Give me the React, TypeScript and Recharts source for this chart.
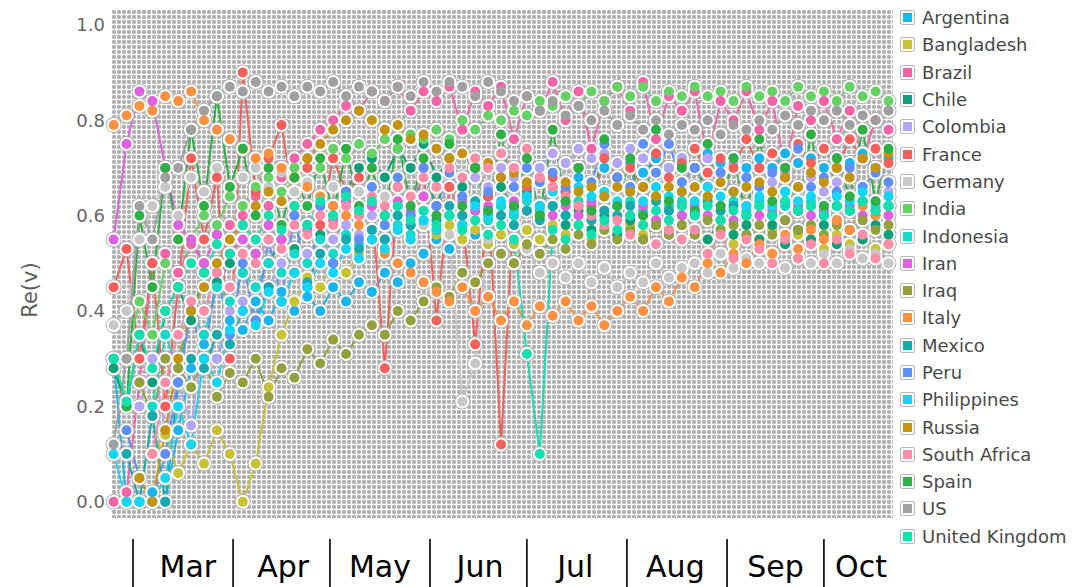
import { CartesianGrid, Line, LineChart, XAxis, YAxis } from 'recharts'

const countries = [
  'Argentina', 'Bangladesh', 'Brazil', 'Chile', 'Colombia', 'France', 'Germany',
  'India', 'Indonesia', 'Iran', 'Iraq', 'Italy', 'Mexico', 'Peru', 'Philippines',
  'Russia', 'South Africa', 'Spain', 'US', 'United Kingdom',
]

const colors = [
  '#1ab4ee', '#c9c235', '#f564a6', '#0f9f7a', '#b5a5f5', '#f7605a', '#c8c8c8',
  '#66d266', '#18d8c8', '#e060e0', '#93a03c', '#ff9140', '#16a9ad', '#5f8ff8',
  '#14d6f4', '#c49410', '#ff8da8', '#2eb044', '#a0a0a0', '#14dfae',
]

// days since 1 March
const days = [
  -6, -2, 2, 6, 10, 14, 18, 22, 26, 30, 34, 38, 42, 46, 50, 54, 58, 62, 66, 70,
  74, 78, 82, 86, 90, 94, 98, 102, 106, 110, 114, 118, 122, 126, 130, 134, 138,
  142, 146, 150, 154, 158, 162, 166, 170, 174, 178, 182, 186, 190, 194, 198, 202,
  206, 210, 214, 218, 222, 226, 230, 234,
]

const argentina = [
  0.30, 0.00, 0.00, 0.02, 0.00,
  0.15, 0.28, 0.33, 0.30, 0.38,
  0.36, 0.42, 0.38, 0.44, 0.40,
  0.43, 0.40, 0.45, 0.42, 0.46,
  0.44, 0.48, 0.46, 0.50, 0.52,
  0.55, 0.53, 0.58, 0.56, 0.60,
  0.62, 0.60, 0.64, 0.62, 0.66,
  0.65, 0.68, 0.66, 0.70, 0.68,
  0.71, 0.69, 0.72, 0.70, 0.72,
  0.70, 0.73, 0.71, 0.72, 0.70,
  0.72, 0.70, 0.73, 0.71, 0.72,
  0.70, 0.72, 0.71, 0.73, 0.70, 0.72,
]
const bangladesh = [
  null, null, null, 0.10, 0.14,
  0.06, 0.12, 0.08, 0.15, 0.10,
  0.00, 0.08, 0.24, 0.35, 0.42,
  0.47, 0.45, 0.50, 0.48, 0.52,
  0.55, 0.53, 0.57, 0.55, 0.58,
  0.56, 0.58, 0.55, 0.57, 0.54,
  0.56, 0.54, 0.57, 0.55, 0.58,
  0.56, 0.58, 0.55, 0.57, 0.56,
  0.58, 0.56, 0.59, 0.57, 0.58,
  0.56, 0.55, 0.57, 0.54, 0.56,
  0.55, 0.57, 0.54, 0.56, 0.55,
  0.53, 0.56, 0.54, 0.55, 0.53, 0.54,
]
const brazil = [
  0.00, 0.02, 0.25, 0.50, 0.52,
  0.48, 0.54, 0.50, 0.56, 0.58,
  0.60, 0.64, 0.62, 0.68, 0.72,
  0.75, 0.78, 0.80, 0.83, 0.82,
  0.86, 0.84, 0.87, 0.82, 0.86,
  0.84, 0.87, 0.78, 0.86, 0.83,
  0.87, 0.76, 0.85, 0.82, 0.88,
  0.80, 0.86, 0.74, 0.84, 0.87,
  0.82, 0.88, 0.76, 0.85, 0.82,
  0.86, 0.72, 0.84, 0.80, 0.86,
  0.78, 0.84, 0.70, 0.83, 0.80,
  0.84, 0.76, 0.82, 0.72, 0.80, 0.78,
]
const chile = [
  0.28, 0.20, 0.35, 0.25, 0.40,
  0.45, 0.38, 0.48, 0.46, 0.50,
  0.48, 0.52, 0.50, 0.55, 0.53,
  0.58, 0.56, 0.62, 0.65, 0.70,
  0.72, 0.68, 0.74, 0.70, 0.75,
  0.68, 0.72, 0.66, 0.70, 0.64,
  0.66, 0.62, 0.65, 0.60, 0.62,
  0.58, 0.61, 0.57, 0.60, 0.56,
  0.59, 0.55, 0.58, 0.56, 0.60,
  0.57, 0.55, 0.59, 0.56, 0.58,
  0.55, 0.58, 0.54, 0.57, 0.55,
  0.58, 0.54, 0.57, 0.55, 0.58, 0.56,
]
const colombia = [
  null, null, 0.20, 0.30, 0.15,
  0.25, 0.16, 0.35, 0.30, 0.40,
  0.42, 0.38, 0.45, 0.50, 0.48,
  0.52, 0.50, 0.55, 0.58, 0.56,
  0.60, 0.58, 0.62, 0.60, 0.64,
  0.62, 0.66, 0.64, 0.68, 0.66,
  0.70, 0.68, 0.72, 0.70, 0.73,
  0.71, 0.74, 0.72, 0.73, 0.71,
  0.74, 0.72, 0.73, 0.70, 0.72,
  0.70, 0.72, 0.69, 0.71, 0.68,
  0.70, 0.67, 0.69, 0.66, 0.68,
  0.65, 0.67, 0.64, 0.66, 0.63, 0.65,
]
const france = [
  0.45, 0.53, 0.30, 0.50, 0.20,
  0.45, 0.72, 0.55, 0.68, 0.30,
  0.90, 0.65, 0.72, 0.79, 0.62,
  0.70, 0.58, 0.72, 0.65, 0.68,
  0.62, 0.28, 0.66, 0.58, 0.70,
  0.38, 0.66, 0.60, 0.33, 0.64,
  0.12, 0.62, 0.66, 0.60, 0.68,
  0.65, 0.70, 0.62, 0.72, 0.68,
  0.70, 0.66, 0.73, 0.68, 0.71,
  0.74, 0.69, 0.72, 0.70, 0.76,
  0.70, 0.73, 0.68, 0.75, 0.71,
  0.74, 0.70, 0.76, 0.72, 0.74, 0.71,
]
const germany = [
  0.37, 0.40, 0.55, 0.62, 0.66,
  0.60, 0.68, 0.65, 0.70, 0.66,
  0.68, 0.70, 0.66, 0.69, 0.65,
  0.67, 0.64, 0.66, 0.63, 0.65,
  0.62, 0.64, 0.60, 0.62, 0.58,
  0.60, 0.56, 0.21, 0.29, 0.55,
  0.52, 0.50, 0.53, 0.48, 0.50,
  0.47, 0.50, 0.46, 0.49, 0.45,
  0.48, 0.46, 0.50, 0.47, 0.49,
  0.50, 0.48, 0.52, 0.49, 0.51,
  0.50, 0.52, 0.49, 0.51, 0.50,
  0.52, 0.50, 0.53, 0.51, 0.52, 0.50,
]
const india = [
  null, 0.30, 0.42, 0.35, 0.50,
  0.45, 0.55, 0.60, 0.58, 0.64,
  0.62, 0.66, 0.68, 0.65, 0.70,
  0.72, 0.70, 0.74, 0.72, 0.75,
  0.73, 0.76, 0.74, 0.77, 0.76,
  0.78, 0.76, 0.80, 0.78, 0.81,
  0.80, 0.82, 0.81, 0.84, 0.83,
  0.85, 0.83, 0.86, 0.84, 0.87,
  0.85, 0.87, 0.84, 0.86, 0.85,
  0.87, 0.85, 0.86, 0.84, 0.87,
  0.85, 0.86, 0.84, 0.87, 0.85,
  0.86, 0.84, 0.87, 0.85, 0.86, 0.84,
]
const indonesia = [
  null, null, null, 0.20, 0.35,
  0.28, 0.40, 0.35, 0.45, 0.42,
  0.48, 0.45, 0.50, 0.48, 0.52,
  0.50, 0.55, 0.52, 0.56, 0.54,
  0.57, 0.55, 0.58, 0.56, 0.59,
  0.57, 0.60, 0.58, 0.61, 0.59,
  0.62, 0.60, 0.63, 0.61, 0.62,
  0.60, 0.63, 0.61, 0.64, 0.62,
  0.63, 0.61, 0.64, 0.62, 0.63,
  0.61, 0.64, 0.62, 0.63, 0.61,
  0.63, 0.60, 0.62, 0.61, 0.63,
  0.60, 0.62, 0.61, 0.63, 0.60, 0.62,
]
const iran = [
  0.55, 0.75, 0.86, 0.84, 0.70,
  0.58, 0.55, 0.50, 0.56, 0.52,
  0.55, 0.52, 0.58, 0.55, 0.60,
  0.57, 0.62, 0.59, 0.63, 0.60,
  0.62, 0.60, 0.63, 0.61, 0.64,
  0.62, 0.60, 0.63, 0.61, 0.62,
  0.60, 0.63, 0.61, 0.62, 0.60,
  0.62, 0.60, 0.63, 0.61, 0.62,
  0.60, 0.62, 0.59, 0.61, 0.60,
  0.62, 0.60, 0.61, 0.59, 0.62,
  0.60, 0.61, 0.59, 0.62, 0.60,
  0.61, 0.59, 0.62, 0.60, 0.61, 0.60,
]
const iraq = [
  null, null, 0.25, 0.18, 0.30,
  0.28, 0.24, 0.30, 0.22, 0.27,
  0.25, 0.30, 0.22, 0.28, 0.26,
  0.32, 0.29, 0.34, 0.31, 0.35,
  0.37, 0.35, 0.40, 0.38, 0.42,
  0.45, 0.43, 0.48, 0.46, 0.50,
  0.52, 0.50, 0.54, 0.52, 0.55,
  0.53, 0.56, 0.54, 0.57, 0.55,
  0.57, 0.55, 0.58, 0.56, 0.58,
  0.56, 0.59, 0.57, 0.58, 0.56,
  0.58, 0.56, 0.59, 0.57, 0.58,
  0.56, 0.58, 0.57, 0.59, 0.57, 0.58,
]
const italy = [
  0.79, 0.81, 0.83, 0.82, 0.85,
  0.84, 0.86, 0.80, 0.78, 0.76,
  0.74, 0.72, 0.73, 0.70, 0.68,
  0.66, 0.64, 0.62, 0.60, 0.58,
  0.55, 0.52, 0.50, 0.48, 0.46,
  0.44, 0.42, 0.45, 0.40, 0.43,
  0.38, 0.42, 0.37, 0.41, 0.39,
  0.42, 0.38, 0.41, 0.37, 0.40,
  0.43, 0.40, 0.45, 0.42, 0.47,
  0.45, 0.50, 0.48, 0.52, 0.50,
  0.54, 0.52, 0.56, 0.53, 0.57,
  0.55, 0.59, 0.57, 0.62, 0.60, 0.64,
]
const mexico = [
  null, 0.10, 0.00, 0.18, 0.00,
  0.25, 0.30, 0.28, 0.35, 0.33,
  0.40, 0.38, 0.45, 0.42, 0.48,
  0.46, 0.52, 0.50, 0.55, 0.53,
  0.57, 0.55, 0.60, 0.58, 0.61,
  0.59, 0.62, 0.60, 0.63, 0.61,
  0.60, 0.58, 0.61, 0.59, 0.62,
  0.60, 0.62, 0.59, 0.61, 0.60,
  0.62, 0.60, 0.63, 0.61, 0.62,
  0.60, 0.63, 0.61, 0.62, 0.60,
  0.62, 0.60, 0.63, 0.61, 0.62,
  0.60, 0.62, 0.61, 0.63, 0.61, 0.62,
]
const peru = [
  null, 0.15, 0.05, 0.00, 0.10,
  0.25, 0.40, 0.30, 0.48, 0.35,
  0.50, 0.38, 0.55, 0.42, 0.60,
  0.45, 0.62, 0.50, 0.65, 0.55,
  0.66, 0.58, 0.68, 0.60, 0.70,
  0.62, 0.69, 0.64, 0.70, 0.65,
  0.68, 0.66, 0.70, 0.67, 0.69,
  0.66, 0.70, 0.67, 0.75, 0.68,
  0.66, 0.75, 0.69, 0.75, 0.67,
  0.70, 0.66, 0.69, 0.65, 0.68,
  0.66, 0.69, 0.65, 0.74, 0.66,
  0.68, 0.65, 0.70, 0.66, 0.69, 0.67,
]
const philippines = [
  0.10, 0.00, 0.00, 0.00, 0.05,
  0.20, 0.12, 0.30, 0.25, 0.36,
  0.40, 0.37, 0.44, 0.42, 0.48,
  0.45, 0.50, 0.48, 0.53, 0.51,
  0.55, 0.53, 0.57, 0.55, 0.59,
  0.57, 0.60, 0.58, 0.62, 0.60,
  0.63, 0.61, 0.64, 0.62, 0.65,
  0.63, 0.66, 0.64, 0.65, 0.63,
  0.65, 0.63, 0.66, 0.64, 0.65,
  0.63, 0.66, 0.64, 0.65, 0.62,
  0.64, 0.62, 0.65, 0.63, 0.64,
  0.62, 0.64, 0.63, 0.65, 0.62, 0.64,
]
const russia = [
  null, null, 0.05, 0.00, 0.15,
  0.30, 0.40, 0.45, 0.50, 0.55,
  0.58, 0.62, 0.65, 0.63, 0.68,
  0.72, 0.75, 0.78, 0.80, 0.82,
  0.80, 0.78, 0.79, 0.76, 0.77,
  0.74, 0.72, 0.73, 0.70, 0.71,
  0.68, 0.69, 0.67, 0.68, 0.66,
  0.67, 0.65, 0.66, 0.64, 0.66,
  0.65, 0.66, 0.64, 0.66, 0.65,
  0.66, 0.64, 0.67, 0.65, 0.66,
  0.67, 0.65, 0.68, 0.66, 0.69,
  0.67, 0.70, 0.68, 0.72, 0.70, 0.73,
]
const southAfrica = [
  null, null, null, 0.10, 0.25,
  0.35, 0.42, 0.40, 0.48, 0.45,
  0.52, 0.50, 0.55, 0.53, 0.58,
  0.56, 0.60, 0.58, 0.62, 0.60,
  0.64, 0.62, 0.66, 0.64, 0.68,
  0.66, 0.70, 0.68, 0.72, 0.70,
  0.73, 0.70, 0.74, 0.68, 0.66,
  0.64, 0.62, 0.60, 0.58, 0.59,
  0.56, 0.58, 0.54, 0.57, 0.55,
  0.57, 0.52, 0.56, 0.51, 0.55,
  0.53, 0.50, 0.55, 0.51, 0.54,
  0.50, 0.55, 0.52, 0.56, 0.51, 0.54,
]
const spain = [
  0.30, 0.20, 0.60, 0.45, 0.70,
  0.55, 0.78, 0.62, 0.85, 0.66,
  0.74, 0.60, 0.70, 0.58, 0.68,
  0.62, 0.72, 0.60, 0.74, 0.62,
  0.70, 0.60, 0.76, 0.62, 0.72,
  0.60, 0.75, 0.62, 0.70, 0.61,
  0.77, 0.62, 0.72, 0.60, 0.78,
  0.63, 0.70, 0.61, 0.76, 0.62,
  0.72, 0.60, 0.78, 0.63, 0.70,
  0.61, 0.75, 0.62, 0.72, 0.60,
  0.76, 0.63, 0.70, 0.61, 0.77,
  0.62, 0.72, 0.64, 0.78, 0.63, 0.74,
]
const us = [
  0.12, 0.30, 0.62, 0.55, 0.68,
  0.70, 0.78, 0.82, 0.85, 0.87,
  0.86, 0.88, 0.86, 0.87, 0.85,
  0.87, 0.86, 0.88, 0.85, 0.87,
  0.86, 0.84, 0.87, 0.85, 0.88,
  0.86, 0.88, 0.87, 0.85, 0.88,
  0.86, 0.84, 0.85, 0.82, 0.84,
  0.81, 0.83, 0.80, 0.82, 0.79,
  0.81, 0.78, 0.80, 0.77, 0.79,
  0.78, 0.80, 0.77, 0.79, 0.78,
  0.80, 0.78, 0.81, 0.79, 0.82,
  0.80, 0.82, 0.79, 0.81, 0.80, 0.82,
]
const unitedKingdom = [
  0.30, 0.21, 0.35, 0.28, 0.40,
  0.45, 0.50, 0.48, 0.54, 0.52,
  0.58, 0.55, 0.60, 0.57, 0.62,
  0.58, 0.63, 0.60, 0.64, 0.61,
  0.63, 0.60, 0.62, 0.59, 0.61,
  0.58, 0.60, 0.57, 0.59, 0.56,
  0.58, 0.55, 0.31, 0.10, 0.57,
  0.55, 0.58, 0.56, 0.59, 0.57,
  0.60, 0.58, 0.61, 0.59, 0.62,
  0.60, 0.62, 0.59, 0.61, 0.60,
  0.62, 0.60, 0.63, 0.61, 0.62,
  0.60, 0.62, 0.61, 0.63, 0.61, 0.62,
]

const seriesValues = [
  argentina, bangladesh, brazil, chile, colombia, france, germany, india,
  indonesia, iran, iraq, italy, mexico, peru, philippines, russia,
  southAfrica, spain, us, unitedKingdom,
]

const monthStarts = [0, 31, 61, 92, 122, 153, 184, 214]
const monthNames = ['Mar', 'Apr', 'May', 'Jun', 'Jul', 'Aug', 'Sep', 'Oct']
const monthLabelDays = [17, 46.5, 76.5, 107.5, 137, 168, 199, 225.5]
const yTicks = [0, 0.2, 0.4, 0.6, 0.8, 1.0]

const rows = days.map((day, i) => {
  const row: Record<string, number | null> = { day }
  countries.forEach((c, k) => {
    row[c] = seriesValues[k][i]
  })
  return row
})

const FONT = '"DejaVu Sans", Verdana, sans-serif'

const MonthTick = ({ x, y, payload }: any) => {
  const idx = monthLabelDays.indexOf(payload.value)
  if (idx >= 0) {
    return (
      <text x={x} y={y + 59} textAnchor="middle" fontSize={30} fontFamily={FONT} fill="#000">
        {monthNames[idx]}
      </text>
    )
  }
  return <line x1={x} x2={x} y1={y + 21} y2={y + 70} stroke="#000" strokeWidth={1.6} />
}

const LegendList = () => (
  <div style={{ position: 'absolute', left: 900, top: 4, fontFamily: FONT }}>
    {countries.map((c, k) => (
      <div key={c} style={{ display: 'flex', alignItems: 'center', height: 27.3 }}>
        <div
          style={{
            width: 13,
            height: 13,
            border: '1px solid #b8b8b8',
            borderRadius: 2,
            background: '#fff',
            display: 'flex',
            alignItems: 'center',
            justifyContent: 'center',
            marginRight: 7,
          }}
        >
          <div style={{ width: 9, height: 9, background: colors[k] }} />
        </div>
        <span style={{ fontSize: 18, color: '#4a4a4a' }}>{c}</span>
      </div>
    ))}
  </div>
)

export default function App() {
  return (
    <div style={{ position: 'absolute', left: 0, top: 0, width: 1081, height: 587, background: '#fff' }}>
      <LineChart width={1081} height={587} data={rows} margin={{ top: 10, right: 188, bottom: 0, left: 0 }}>
        <defs>
          <pattern id="dotgrid" x={112} y={10} width={5} height={5} patternUnits="userSpaceOnUse">
            <rect x={0} y={0} width={5} height={5} fill="#ffffff" />
            <rect x={0} y={0} width={4} height={4} rx={1.4} fill="#b0b0b0" />
          </pattern>
        </defs>
        <CartesianGrid horizontal={false} vertical={false} fill="url(#dotgrid)" />
        <XAxis
          dataKey="day"
          type="number"
          domain={[-6.5, 235.4]}
          ticks={[...monthStarts, ...monthLabelDays]}
          interval={0}
          tick={<MonthTick />}
          axisLine={false}
          tickLine={false}
          tickSize={0}
          tickMargin={0}
          height={69}
        />
        <YAxis
          domain={[-0.034, 1.031]}
          ticks={yTicks}
          tickFormatter={(v: number) => v.toFixed(1)}
          axisLine={false}
          tickLine={false}
          tickSize={0}
          tickMargin={7}
          width={112}
          tick={{ fill: '#666666', fontSize: 18, fontFamily: FONT }}
        />
        {countries.map((c) => (
          <Line
            key={`g-${c}`}
            dataKey={c}
            stroke="none"
            dot={{ r: 8, fill: '#b4b4b4', stroke: 'none' }}
            activeDot={false}
            legendType="none"
            isAnimationActive={false}
          />
        ))}
        {countries.map((c) => (
          <Line
            key={`w-${c}`}
            dataKey={c}
            stroke="none"
            dot={{ r: 7, fill: '#ffffff', stroke: 'none' }}
            activeDot={false}
            legendType="none"
            isAnimationActive={false}
          />
        ))}
        {countries.map((c, k) => (
          <Line
            key={c}
            dataKey={c}
            type="linear"
            stroke={colors[k]}
            strokeWidth={2}
            dot={{ r: 5, fill: colors[k], stroke: 'none' }}
            activeDot={false}
            isAnimationActive={false}
          />
        ))}
      </LineChart>
      <div
        style={{
          position: 'absolute',
          left: 30,
          top: 290,
          transform: 'translate(-50%, -50%) rotate(-90deg)',
          fontFamily: FONT,
          fontSize: 21,
          color: '#5e5e5e',
          whiteSpace: 'nowrap',
        }}
      >
        Re(v)
      </div>
      <LegendList />
    </div>
  )
}
